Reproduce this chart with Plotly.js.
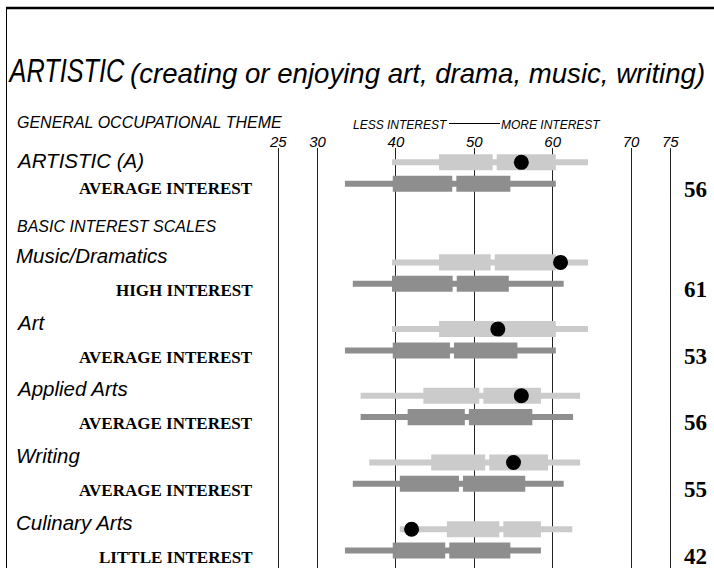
<!DOCTYPE html>
<html>
<head>
<meta charset="utf-8">
<script src="https://cdn.plot.ly/plotly-3.0.1.min.js"></script>
<style>html,body{margin:0;padding:0;background:#fff;}#chart{width:714px;height:568px;}</style>
</head>
<body>
<div id="chart"></div>
<script>
// ---- data ----
const scales = ['ARTISTIC (A)', 'Music/Dramatics', 'Art', 'Applied Arts', 'Writing', 'Culinary Arts'];
const levels = ['AVERAGE INTEREST', 'HIGH INTEREST', 'AVERAGE INTEREST', 'AVERAGE INTEREST', 'AVERAGE INTEREST', 'LITTLE INTEREST'];
const scores = [56, 61, 53, 56, 55, 42];
// light grey (upper) distribution rows
const refLo  = [39.5, 39.5, 39.5, 35.5, 36.6, 40.5];
const refQ1  = [45.5, 45.5, 45.5, 43.5, 44.5, 46.5];
const refMed = [52.6, 52.35, 52.8, 50.9, 51.65, 53.45];
const refQ3  = [60.4, 60.4, 60.4, 58.5, 59.4, 58.5];
const refHi  = [64.5, 64.5, 64.5, 63.5, 63.5, 62.5];
// dark grey (lower) distribution rows
const cmpLo  = [33.5, 34.5, 33.5, 35.5, 34.5, 33.5];
const cmpQ1  = [39.6, 39.5, 39.6, 41.5, 40.5, 39.6];
const cmpMed = [47.45, 47.5, 47.15, 49.05, 48.3, 46.55];
const cmpQ3  = [54.6, 54.4, 55.5, 57.4, 56.5, 54.6];
const cmpHi  = [60.4, 61.4, 60.4, 62.6, 61.4, 58.5];
const tickVals = [25, 30, 40, 50, 60, 70, 75];

// ---- layout helpers ----
const W = 714, H = 568, TOP = 148;
const SLOT = 66.7, SLOT0 = 173;           // pixel of first row-centre, pixels per row slot
const slot = scales.map((s, i) => i === 0 ? 0 : i + 0.5);
const ROW_OFF = 0.16, BOX_W = 0.24, THIN_W = 0.09, HALF_GAP = 0.26;
const LIGHT = '#cbcbcb', DARK = '#8e8e8e';
const px = x => x / W;
const py = y => (H - y) / (H - TOP);

function seg(name, lo, hi, yOff, width, color) {
  return {
    type: 'bar', orientation: 'h', name: name,
    y: slot.map(s => s + yOff),
    base: lo,
    x: hi.map((h, i) => h - lo[i]),
    width: slot.map(() => width),
    marker: {color: color, line: {width: 0}},
    hoverinfo: 'skip', showlegend: false
  };
}
const sub = (a, d) => a.map(v => v - d);
const add = (a, d) => a.map(v => v + d);

const traces = [
  seg('ref thin', refLo, refHi, -ROW_OFF, THIN_W, LIGHT),
  seg('ref box low', refQ1, sub(refMed, HALF_GAP), -ROW_OFF, BOX_W, LIGHT),
  seg('ref box high', add(refMed, HALF_GAP), refQ3, -ROW_OFF, BOX_W, LIGHT),
  seg('cmp thin', cmpLo, cmpHi, ROW_OFF, THIN_W, DARK),
  seg('cmp box low', cmpQ1, sub(cmpMed, HALF_GAP), ROW_OFF, BOX_W, DARK),
  seg('cmp box high', add(cmpMed, HALF_GAP), cmpQ3, ROW_OFF, BOX_W, DARK),
  {
    type: 'scatter', mode: 'markers',
    x: scores, y: slot.map(s => s - ROW_OFF),
    marker: {color: '#000', size: 15, line: {width: 0}},
    hoverinfo: 'skip', showlegend: false
  }
];

const sans = 'Liberation Sans, Arial, sans-serif';
const serif = 'Liberation Serif, Times New Roman, serif';
const ann = [];
function txt(text, x, y, xanchor, font) {
  ann.push({text: text, xref: 'paper', yref: 'paper', x: px(x), y: py(y),
    xanchor: xanchor, yanchor: 'middle', showarrow: false, font: font, borderpad: 0});
}
txt('ARTISTIC', 7, 70, 'left', {family: sans, size: 34, style: 'italic', color: '#000'});
txt('(creating or enjoying art, drama, music, writing)', 129, 74, 'left', {family: sans, size: 27.6, style: 'italic', color: '#000'});
txt('GENERAL OCCUPATIONAL THEME', 16, 122.5, 'left', {family: sans, size: 16, style: 'italic', color: '#000'});
txt('BASIC INTEREST SCALES', 16, 226, 'left', {family: sans, size: 16, style: 'italic', color: '#000'});
txt('LESS INTEREST', 449, 125, 'right', {family: sans, size: 12, style: 'italic', color: '#000'});
txt('MORE INTEREST', 500, 125, 'left', {family: sans, size: 12, style: 'italic', color: '#000'});

scales.forEach((s, i) => {
  const c = SLOT0 + slot[i] * SLOT;
  txt(s, 14.5, c - (i === 0 ? 12.7 : 17.5), 'left', {family: sans, size: 20.5, style: 'italic', color: '#000'});
  txt('<b>' + levels[i] + '</b>', 254, c + (i === 0 ? 15 : 17.5), 'right', {family: serif, size: 17, color: '#000'});
  txt('<b>' + scores[i] + '</b>', 708, c + 16.5, 'right', {family: serif, size: 23, color: '#000'});
});

const shapes = [
  {type: 'line', xref: 'paper', yref: 'paper', x0: px(6), x1: 1, y0: py(8), y1: py(8), line: {color: '#000', width: 2.5}},
  {type: 'line', xref: 'paper', yref: 'paper', x0: px(6.5), x1: px(6.5), y0: py(8), y1: 0, line: {color: '#000', width: 1}},
  {type: 'line', xref: 'paper', yref: 'paper', x0: px(449), x1: px(500), y0: py(123.5), y1: py(123.5), line: {color: '#000', width: 1}}
];

// pixel 0 .. 714 mapped linearly: 25 -> 278.3 px, 7.84 px per unit
const x0v = 25 - 278.3 / 7.84, x1v = 25 + (W - 278.3) / 7.84;
const yTop = -(SLOT0 - TOP) / SLOT, yBot = (H - SLOT0) / SLOT;

const layout = {
  width: W, height: H,
  margin: {l: 0, r: 0, t: TOP, b: 0, pad: 0},
  paper_bgcolor: '#fff', plot_bgcolor: '#fff',
  barmode: 'overlay',
  showlegend: false,
  xaxis: {
    range: [x0v, x1v], side: 'top', tickmode: 'array', tickvals: tickVals,
    ticktext: tickVals.map(String), ticks: '', ticklabelstandoff: -3,
    showgrid: true, gridcolor: '#222', gridwidth: 1,
    zeroline: false, showline: false, fixedrange: true,
    tickfont: {family: sans, size: 15, style: 'italic', color: '#000'}
  },
  yaxis: {
    range: [yBot, yTop], showgrid: false, zeroline: false, showline: false,
    showticklabels: false, ticks: '', fixedrange: true
  },
  annotations: ann,
  shapes: shapes
};

Plotly.newPlot('chart', traces, layout, {displayModeBar: false, staticPlot: true}).then(gd => {
  // the reference title uses a condensed face: squeeze the big word horizontally
  gd.querySelectorAll('.annotation-text').forEach(t => {
    if (t.getAttribute('data-unformatted') === 'ARTISTIC') {
      const b = t.getBBox();
      t.setAttribute('transform', `translate(${b.x},0) scale(0.745,1) translate(${-b.x},0)`);
    }
  });
});
</script>
</body>
</html>
